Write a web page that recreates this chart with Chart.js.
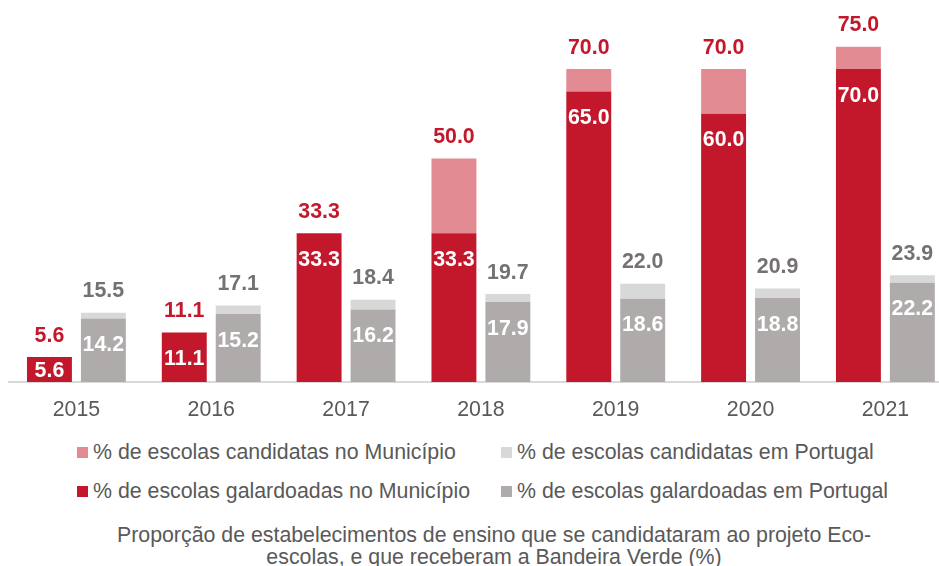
<!DOCTYPE html>
<html lang="pt">
<head>
<meta charset="utf-8">
<title>Eco-escolas</title>
<script src="https://cdn.jsdelivr.net/npm/chart.js@4.4.1/dist/chart.umd.min.js"></script>
<style>
  body { margin: 0; background: #fff; overflow: hidden; width: 939px; height: 566px; position: relative; }
  #wrap { position: absolute; left: 0; top: 0; width: 960px; height: 420px; }
  .leg { position: absolute; font: 21.33px 'Liberation Sans', Arial, sans-serif; color: #595959; white-space: nowrap; line-height: 24px; }
  .leg i { position: absolute; left: 0; top: 7px; width: 11px; height: 11px; }
  .leg span { position: absolute; left: 16px; top: 0; }
  #title { position: absolute; left: 94px; width: 800px; top: 524px; text-align: center;
           font: 21.33px 'Liberation Sans', Arial, sans-serif; color: #595959; line-height: 22px; }
</style>
</head>
<body>
<div id="wrap"><canvas id="chart"></canvas></div>
<div id="legend"></div>
<div id="title">Proporção de estabelecimentos de ensino que se candidataram ao projeto Eco-<br>escolas, e que receberam a Bandeira Verde (%)</div>
<script>
// anos e percentagens
const years = ['2015', '2016', '2017', '2018', '2019', '2020', '2021'];
const candMunicipio = [5.6, 11.1, 33.3, 50.0, 70.0, 70.0, 75.0];
const galMunicipio  = [5.6, 11.1, 33.3, 33.3, 65.0, 60.0, 70.0];
const candPortugal  = [15.5, 17.1, 18.4, 19.7, 22.0, 20.9, 23.9];
const galPortugal   = [14.2, 15.2, 16.2, 17.9, 18.6, 18.8, 22.2];

const RED = '#c3182c', RED_LIGHT = '#e28b93';
const GREY = '#afabab', GREY_LIGHT = '#d9d8d8';
const FONT = "'Liberation Sans', Arial, sans-serif";
const SIZE = 21.33;

// parte de cima de cada barra = candidatas - galardoadas
const diff = (a, b) => a.map((v, i) => Math.round((v - b[i]) * 10) / 10);

// etiquetas: total por cima, galardoadas a branco dentro da barra
const valueLabels = {
  id: 'valueLabels',
  afterDatasetsDraw(chart) {
    const ctx = chart.ctx;
    ctx.save();
    ctx.font = 'bold ' + SIZE + 'px ' + FONT;
    ctx.textAlign = 'center';
    ctx.textBaseline = 'alphabetic';
    const off = 7.6;
    const pairs = [[0, 1, candMunicipio, galMunicipio, RED], [2, 3, candPortugal, galPortugal, '#767171']];
    pairs.forEach(([lo, hi, cand, gal, col]) => {
      const low = chart.getDatasetMeta(lo).data;
      const high = chart.getDatasetMeta(hi).data;
      years.forEach((y, i) => {
        const top = high[i].y;
        ctx.fillStyle = col;
        ctx.fillText(cand[i].toFixed(1), high[i].x, top - 23 + off);
        const b = low[i];
        const cy = Math.min(b.y + 25, (b.y + b.base) / 2);
        ctx.fillStyle = '#fff';
        ctx.fillText(gal[i].toFixed(1), b.x, cy + off);
      });
    });
    ctx.restore();
  }
};

const chart = new Chart(document.getElementById('chart'), {
  type: 'bar',
  data: {
    labels: years,
    datasets: [
      { label: '% de escolas galardoadas no Município', data: galMunicipio, backgroundColor: RED, stack: 'mun' },
      { label: '% de escolas candidatas no Município', data: diff(candMunicipio, galMunicipio), backgroundColor: RED_LIGHT, stack: 'mun' },
      { label: '% de escolas galardoadas em Portugal', data: galPortugal, backgroundColor: GREY, stack: 'pt' },
      { label: '% de escolas candidatas em Portugal', data: diff(candPortugal, galPortugal), backgroundColor: GREY_LIGHT, stack: 'pt' }
    ]
  },
  options: {
    responsive: true,
    maintainAspectRatio: false,
    animation: false,
    categoryPercentage: 0.8,
    barPercentage: 0.833,
    layout: { padding: { left: 9, right: 7.2, top: 24.4, bottom: 0 } },
    plugins: { legend: { display: false }, tooltip: { enabled: false } },
    scales: {
      x: {
        stacked: true,
        grid: { display: true, drawOnChartArea: false, drawTicks: false, color: 'transparent' },
        border: { display: true, color: '#d9d9d9', width: 2 },
        ticks: { color: '#595959', font: { family: FONT, size: SIZE }, padding: 15 },
        afterFit(axis) { axis.height = 38; }
      },
      y: { stacked: true, display: false, min: 0, max: 80 }
    }
  },
  plugins: [valueLabels]
});

// legenda em duas colunas
const legendOrder = [[1, 77, 440], [3, 501, 440], [0, 77, 479], [2, 501, 479]];
const legend = document.getElementById('legend');
legendOrder.forEach(([idx, x, y]) => {
  const ds = chart.data.datasets[idx];
  const item = document.createElement('div');
  item.className = 'leg';
  item.style.left = x + 'px';
  item.style.top = y + 'px';
  item.innerHTML = '<i style="background:' + ds.backgroundColor + '"></i><span>' + ds.label + '</span>';
  legend.appendChild(item);
});
</script>
</body>
</html>
